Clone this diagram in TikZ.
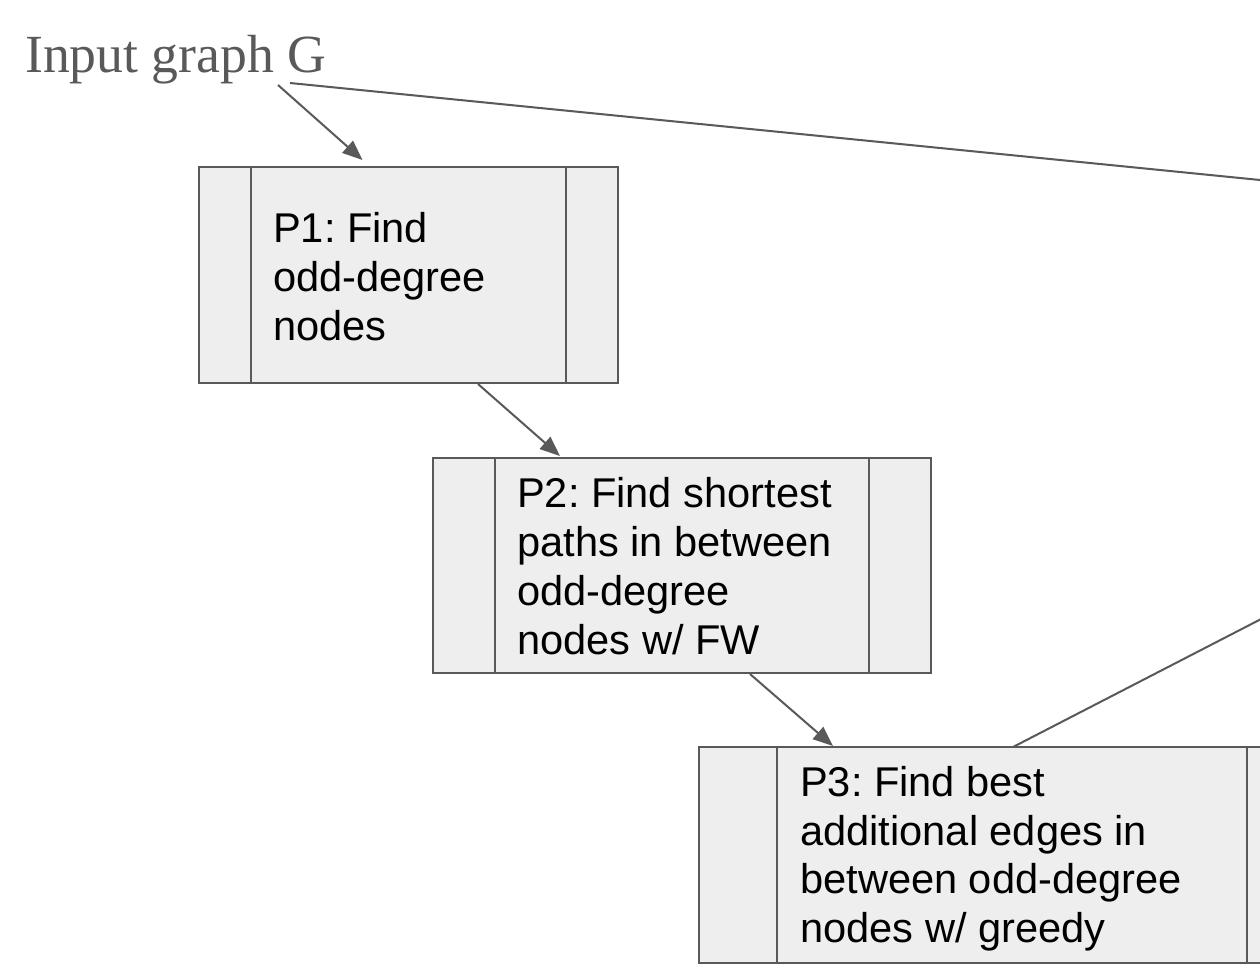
\documentclass[tikz,border=0pt]{standalone}
\usepackage{fontspec}
\setmainfont{Liberation Serif}
\setsansfont{Liberation Sans}
\usetikzlibrary{arrows.meta}
\definecolor{edgegray}{HTML}{595959}
\definecolor{boxfill}{HTML}{EEEEEE}
\frenchspacing
\tikzset{
  procbox/.style={draw=edgegray, fill=boxfill, line width=2pt, anchor=north west, inner sep=0pt, outer sep=0pt},
  divider/.style={draw=edgegray, line width=2pt},
  boxtext/.style={anchor=north west, inner sep=0pt, align=left, text=black, font=\sffamily\fontsize{41.6}{48.8}\selectfont},
  conn/.style={draw=edgegray, line width=2pt},
  arr/.style={conn, -{Triangle[length=20pt,width=16pt]}}
}
\begin{document}
\begin{tikzpicture}[x=1pt,y=-1pt]
\useasboundingbox (0,0) rectangle (1260,974);
\fill[white] (0,0) rectangle (1260,974);
\clip (0,0) rectangle (1260,974);

% title
\node[anchor=base west, inner sep=0pt, text=edgegray, font=\fontsize{53.7}{60}\selectfont] (input) at (25,73) {Input graph G};

% boxes
\node[procbox, minimum width=419pt, minimum height=216pt] (p1) at (199,167) {};
\draw[divider] ([xshift=52pt]p1.north west) -- ([xshift=52pt]p1.south west);
\draw[divider] ([xshift=-52pt]p1.north east) -- ([xshift=-52pt]p1.south east);
\node[boxtext] (t1) at (273,212.5) {P1: Find\\odd-degree\\nodes};

\node[procbox, minimum width=498pt, minimum height=215pt] (p2) at (433,458) {};
\draw[divider] ([xshift=62pt]p2.north west) -- ([xshift=62pt]p2.south west);
\draw[divider] ([xshift=-62pt]p2.north east) -- ([xshift=-62pt]p2.south east);
\node[boxtext] (t2) at (517,477.5) {P2: Find shortest\\paths in between\\odd-degree\\nodes w/ FW};

\node[procbox, minimum width=626pt, minimum height=216pt] (p3) at (699,747) {};
\draw[divider] ([xshift=78pt]p3.north west) -- ([xshift=78pt]p3.south west);
\draw[divider] ([xshift=-78pt]p3.north east) -- ([xshift=-78pt]p3.south east);
\node[boxtext] (t3) at (800,766) {P3: Find best\\additional edges in\\between odd-degree\\nodes w/ greedy};

% connector end points
\coordinate (gA) at (278,85);
\coordinate (gB) at (290,83);
\coordinate (p1in) at (362.5,160);
\coordinate (p1out) at (478,384);
\coordinate (p2in) at (560,456);
\coordinate (p2out) at (750,674);
\coordinate (p3in) at (833,746);
\coordinate (p3top) at (1013,747);
\coordinate (offA) at (1360,190);
\coordinate (offB) at (1360,568);

\draw[arr] (gA) -- (p1in);
\draw[arr] (p1out) -- (p2in);
\draw[arr] (p2out) -- (p3in);
\draw[conn] (gB) -- (offA);
\draw[conn] (p3top) -- (offB);
\end{tikzpicture}
\end{document}
